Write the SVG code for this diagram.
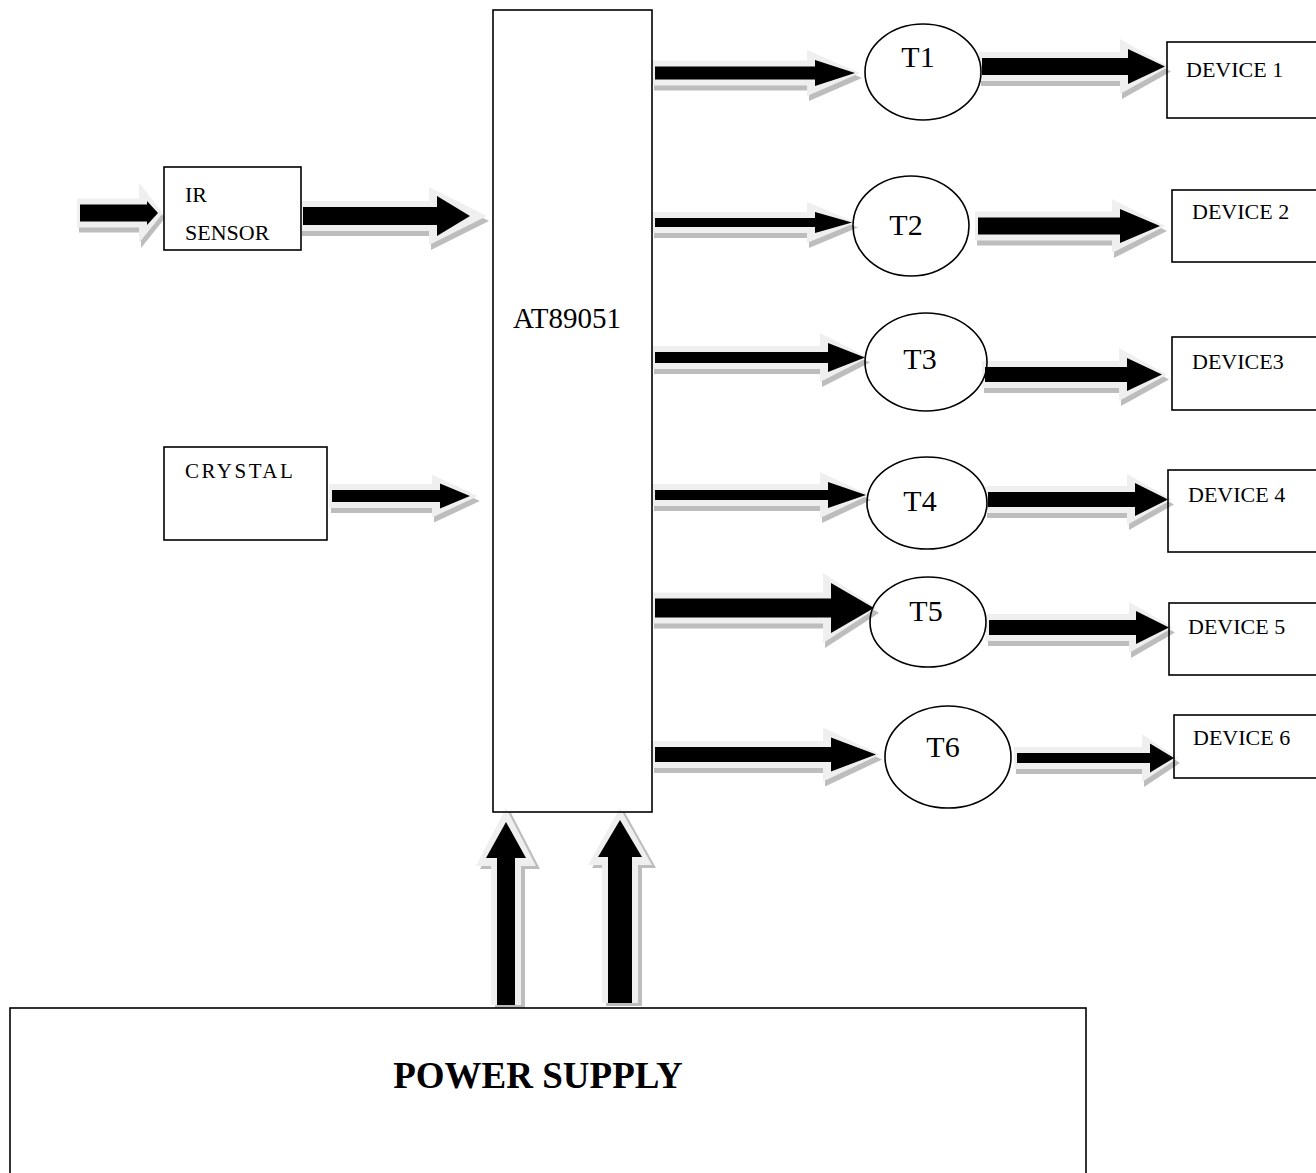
<svg xmlns="http://www.w3.org/2000/svg" width="1316" height="1173" viewBox="0 0 1316 1173">
<style>
.box{fill:none;stroke:#000;stroke-width:1.6}
.t{font-family:"Liberation Serif","Times New Roman",serif;fill:#000}
.sh{fill:#bdbdbd}
.ha{fill:#efefef}
.co{fill:#000}
</style>
<rect width="1316" height="1173" fill="#fff"/>
<g id="connectors">
  <g id="a-ir-in">
    <polygon class="sh" transform="translate(2,5)" points="77,198.5 139,198.5 139,183 163,213 139,243 139,227.5 77,227.5"/>
    <polygon class="ha" points="77,198.5 139,198.5 139,183 163,213 139,243 139,227.5 77,227.5"/>
    <polygon class="co" points="80,204.5 147,204.5 147,201 158,213 147,225 147,221.5 80,221.5"/>
  </g>
  <g id="a-ir-mcu">
    <polygon class="sh" transform="translate(2,5)" points="300,201 429,201 429,187 487,216 429,245 429,231 300,231"/>
    <polygon class="ha" points="300,201 429,201 429,187 487,216 429,245 429,231 300,231"/>
    <polygon class="co" points="303,207 437,207 437,196 470,216 437,236 437,225 303,225"/>
  </g>
  <g id="a-crystal-mcu">
    <polygon class="sh" transform="translate(2,5)" points="329,484 432,484 432,474.5 478,496 432,517.5 432,508 329,508"/>
    <polygon class="ha" points="329,484 432,484 432,474.5 478,496 432,517.5 432,508 329,508"/>
    <polygon class="co" points="332,490 440,490 440,483.5 470,496 440,508.5 440,502 332,502"/>
  </g>
  <g id="a-mcu-t1">
    <polygon class="sh" transform="translate(2,5)" points="652,60.5 807,60.5 807,50 860,73 807,96 807,85.5 652,85.5"/>
    <polygon class="ha" points="652,60.5 807,60.5 807,50 860,73 807,96 807,85.5 652,85.5"/>
    <polygon class="co" points="655,66.5 815,66.5 815,60 855,73 815,86 815,79.5 655,79.5"/>
  </g>
  <g id="a-mcu-t2">
    <polygon class="sh" transform="translate(2,5)" points="652,212 807,212 807,202 856,222.5 807,243 807,233 652,233"/>
    <polygon class="ha" points="652,212 807,212 807,202 856,222.5 807,243 807,233 652,233"/>
    <polygon class="co" points="655,218 815,218 815,212 852,222.5 815,233 815,227 655,227"/>
  </g>
  <g id="a-mcu-t3">
    <polygon class="sh" transform="translate(2,5)" points="652,346 820,346 820,333 868,357.5 820,382 820,369 652,369"/>
    <polygon class="ha" points="652,346 820,346 820,333 868,357.5 820,382 820,369 652,369"/>
    <polygon class="co" points="655,352 828,352 828,343 865,357.5 828,372 828,363 655,363"/>
  </g>
  <g id="a-mcu-t4">
    <polygon class="sh" transform="translate(2,5)" points="652,484 820,484 820,472 869,495 820,518 820,506 652,506"/>
    <polygon class="ha" points="652,484 820,484 820,472 869,495 820,518 820,506 652,506"/>
    <polygon class="co" points="655,490 828,490 828,482 866,495 828,508 828,500 655,500"/>
  </g>
  <g id="a-mcu-t5">
    <polygon class="sh" transform="translate(2,5)" points="652,592.5 823,592.5 823,573 877,608 823,643 823,623.5 652,623.5"/>
    <polygon class="ha" points="652,592.5 823,592.5 823,573 877,608 823,643 823,623.5 652,623.5"/>
    <polygon class="co" points="655,598.5 831,598.5 831,583 874,608 831,633 831,617.5 655,617.5"/>
  </g>
  <g id="a-mcu-t6">
    <polygon class="sh" transform="translate(2,5)" points="652,741 823,741 823,727.5 880,754.5 823,781.5 823,768 652,768"/>
    <polygon class="ha" points="652,741 823,741 823,727.5 880,754.5 823,781.5 823,768 652,768"/>
    <polygon class="co" points="655,747 831,747 831,737.5 876,754.5 831,771.5 831,762 655,762"/>
  </g>
  <g id="a-t1-d1">
    <polygon class="sh" transform="translate(2,5)" points="979,52 1120,52 1120,39 1169,66.5 1120,94 1120,81 979,81"/>
    <polygon class="ha" points="979,52 1120,52 1120,39 1169,66.5 1120,94 1120,81 979,81"/>
    <polygon class="co" points="982,58 1128,58 1128,49 1165,66.5 1128,84 1128,75 982,75"/>
  </g>
  <g id="a-t2-d2">
    <polygon class="sh" transform="translate(2,5)" points="975,211.5 1112,211.5 1112,199 1165,226 1112,253 1112,240.5 975,240.5"/>
    <polygon class="ha" points="975,211.5 1112,211.5 1112,199 1165,226 1112,253 1112,240.5 975,240.5"/>
    <polygon class="co" points="978,217.5 1120,217.5 1120,209 1160,226 1120,243 1120,234.5 978,234.5"/>
  </g>
  <g id="a-t3-d3">
    <polygon class="sh" transform="translate(2,5)" points="982,361 1119,361 1119,348 1167,374.5 1119,401 1119,388 982,388"/>
    <polygon class="ha" points="982,361 1119,361 1119,348 1167,374.5 1119,401 1119,388 982,388"/>
    <polygon class="co" points="985,367 1127,367 1127,358 1162,374.5 1127,391 1127,382 985,382"/>
  </g>
  <g id="a-t4-d4">
    <polygon class="sh" transform="translate(2,5)" points="985,486 1127,486 1127,474 1172,499.5 1127,525 1127,513 985,513"/>
    <polygon class="ha" points="985,486 1127,486 1127,474 1172,499.5 1127,525 1127,513 985,513"/>
    <polygon class="co" points="988,492 1135,492 1135,483 1168,499.5 1135,516 1135,507 988,507"/>
  </g>
  <g id="a-t5-d5">
    <polygon class="sh" transform="translate(2,5)" points="986,614 1129,614 1129,602 1173,627.5 1129,653 1129,641 986,641"/>
    <polygon class="ha" points="986,614 1129,614 1129,602 1173,627.5 1129,653 1129,641 986,641"/>
    <polygon class="co" points="989,620 1136,620 1136,611 1169,627.5 1136,644 1136,635 989,635"/>
  </g>
  <g id="a-t6-d6">
    <polygon class="sh" transform="translate(2,5)" points="1014,747 1142,747 1142,734 1178,758 1142,782 1142,769 1014,769"/>
    <polygon class="ha" points="1014,747 1142,747 1142,734 1178,758 1142,782 1142,769 1014,769"/>
    <polygon class="co" points="1017,753 1150,753 1150,743.5 1174,758 1150,772.5 1150,763 1017,763"/>
  </g>
  <g id="a-ps-1">
    <polygon class="sh" transform="translate(4,3)" points="491,1005 491,866 476,866 506,808 536,866 521,866 521,1005"/>
    <polygon class="ha" points="491,1005 491,866 476,866 506,808 536,866 521,866 521,1005"/>
    <polygon class="co" points="497,1005 497,858 486,858 506,822 526,858 515,858 515,1005"/>
  </g>
  <g id="a-ps-2">
    <polygon class="sh" transform="translate(4,3)" points="602,1003 602,865 588,865 620,808 652,865 638,865 638,1003"/>
    <polygon class="ha" points="602,1003 602,865 588,865 620,808 652,865 638,865 638,1003"/>
    <polygon class="co" points="608,1003 608,857 598,857 620,820 642,857 632,857 632,1003"/>
  </g>
</g>

<g id="mcu">
  <rect class="box" x="493" y="10" width="159" height="802"/>
  <text class="t" x="567" y="328" font-size="29" text-anchor="middle">AT89051</text>
</g>
<g id="ir-sensor">
  <rect class="box" x="164" y="167" width="137" height="83"/>
  <text class="t" x="185" y="202" font-size="22">IR</text>
  <text class="t" x="185" y="240" font-size="22">SENSOR</text>
</g>
<g id="crystal">
  <rect class="box" x="164" y="447" width="163" height="93"/>
  <text class="t" x="185" y="478" font-size="21" letter-spacing="2.5">CRYSTAL</text>
</g>

<g id="t1">
  <ellipse class="box" cx="923" cy="72" rx="58" ry="48"/>
  <text class="t" x="918" y="67" font-size="30" text-anchor="middle">T1</text>
</g>
<g id="t2">
  <ellipse class="box" cx="911" cy="226" rx="58" ry="50"/>
  <text class="t" x="906" y="235" font-size="30" text-anchor="middle">T2</text>
</g>
<g id="t3">
  <ellipse class="box" cx="926" cy="362" rx="61" ry="49"/>
  <text class="t" x="920" y="369" font-size="30" text-anchor="middle">T3</text>
</g>
<g id="t4">
  <ellipse class="box" cx="927" cy="503" rx="60" ry="46"/>
  <text class="t" x="920" y="511" font-size="30" text-anchor="middle">T4</text>
</g>
<g id="t5">
  <ellipse class="box" cx="928" cy="622" rx="58" ry="45"/>
  <text class="t" x="926" y="621" font-size="30" text-anchor="middle">T5</text>
</g>
<g id="t6">
  <ellipse class="box" cx="948" cy="757" rx="63" ry="51"/>
  <text class="t" x="943" y="757" font-size="30" text-anchor="middle">T6</text>
</g>

<g id="device1">
  <rect class="box" x="1167" y="42" width="160" height="76"/>
  <text class="t" x="1186" y="77" font-size="22">DEVICE 1</text>
</g>
<g id="device2">
  <rect class="box" x="1172" y="190" width="160" height="72"/>
  <text class="t" x="1192" y="219" font-size="22">DEVICE 2</text>
</g>
<g id="device3">
  <rect class="box" x="1172" y="337" width="160" height="73"/>
  <text class="t" x="1192" y="369" font-size="22">DEVICE3</text>
</g>
<g id="device4">
  <rect class="box" x="1168" y="470" width="160" height="82"/>
  <text class="t" x="1188" y="502" font-size="22">DEVICE 4</text>
</g>
<g id="device5">
  <rect class="box" x="1169" y="603" width="160" height="72"/>
  <text class="t" x="1188" y="634" font-size="22">DEVICE 5</text>
</g>
<g id="device6">
  <rect class="box" x="1174" y="715" width="160" height="63"/>
  <text class="t" x="1193" y="745" font-size="22">DEVICE 6</text>
</g>

<g id="power-supply">
  <rect class="box" x="10" y="1008" width="1076" height="180"/>
  <text class="t" x="538" y="1088" font-size="37" font-weight="bold" text-anchor="middle">POWER SUPPLY</text>
</g>
</svg>
